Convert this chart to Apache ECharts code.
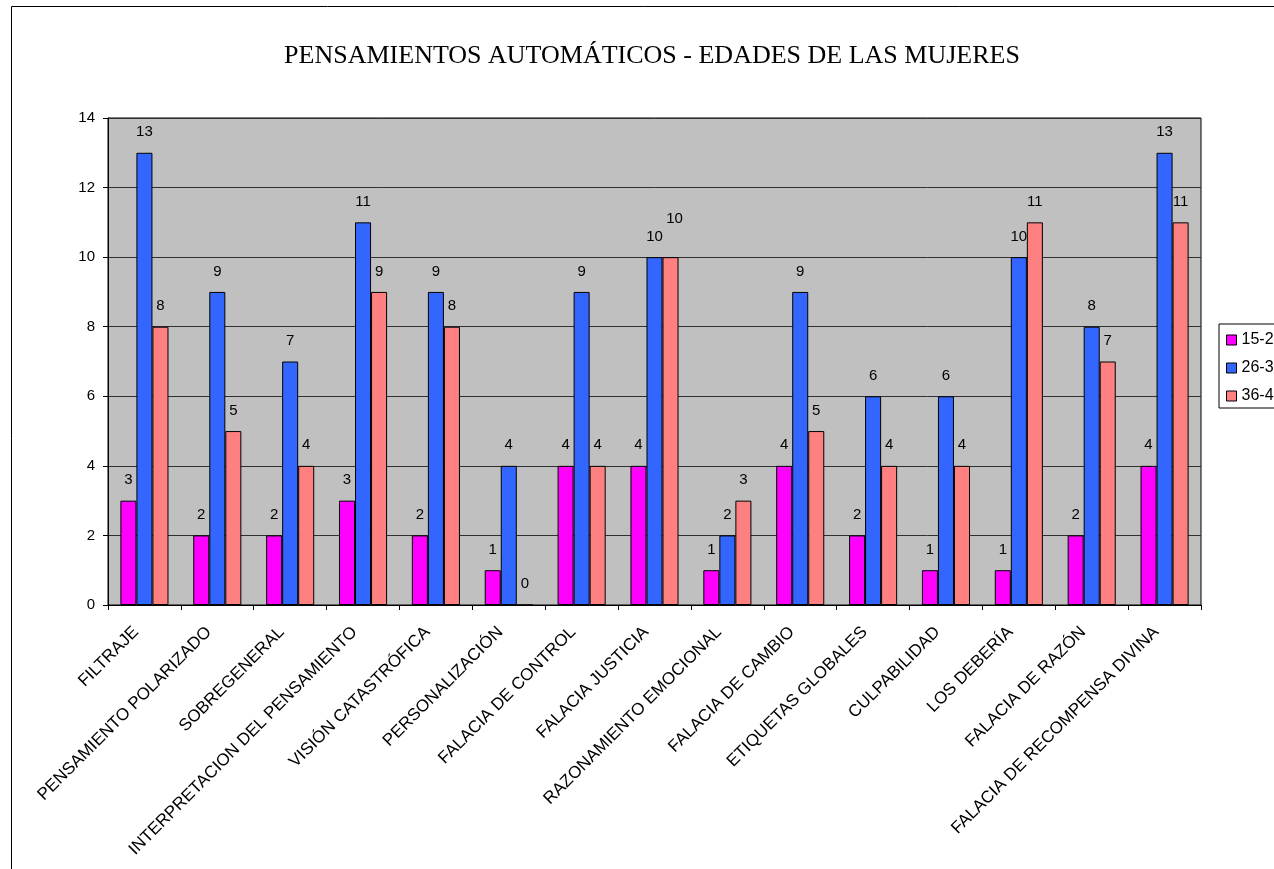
<!DOCTYPE html>
<html>
<head>
<meta charset="utf-8">
<script src="https://cdn.jsdelivr.net/npm/echarts@6/dist/echarts.min.js"></script>
<style>html,body{margin:0;padding:0;background:#fff;}#c{width:1274px;height:869px;}</style>
</head>
<body>
<div id="c"></div>
<script>
var categories = ['FILTRAJE','PENSAMIENTO POLARIZADO','SOBREGENERAL','INTERPRETACION DEL PENSAMIENTO','VISIÓN CATASTRÓFICA','PERSONALIZACIÓN','FALACIA DE CONTROL','FALACIA JUSTICIA','RAZONAMIENTO EMOCIONAL','FALACIA DE CAMBIO','ETIQUETAS GLOBALES','CULPABILIDAD','LOS DEBERÍA','FALACIA DE RAZÓN','FALACIA DE RECOMPENSA DIVINA'];
var seriesNames = ['15-25','26-35','36-45'];
var s1 = [3,2,2,3,2,1,4,4,1,4,2,1,1,2,4];
var s2 = [13,9,7,11,9,4,9,10,2,9,6,6,10,8,13];
var s3 = [8,5,4,9,8,0,4,10,3,5,4,4,11,7,11];
var colors = ['#FF00FF','#3366FF','#FF8080'];

var chart = echarts.init(document.getElementById('c'), null, {renderer:'canvas'});
function mk(name, data, color, layout){
  var s = {
    name: name, type: 'bar', data: data, barGap: '0%', barCategoryGap: '34%',
    itemStyle: {color: color, borderColor: '#000', borderWidth: 1},
    label: {show: true, position: 'top', distance: 13, color: '#000', fontFamily: 'Liberation Sans, Arial', fontSize: 15},
    emphasis: {disabled: true}
  };
  if (layout) s.labelLayout = layout;
  return s;
}
// Excel moves a label up when it would collide with the neighbouring bar's label of equal height
var avoid = function(p){
  return (s3[p.dataIndex] === s2[p.dataIndex] && s3[p.dataIndex] >= 10) ? {dy: -18, dx: 4} : {};
};
chart.setOption({
  animation: false,
  backgroundColor: '#fff',
  title: {
    text: 'PENSAMIENTOS AUTOMÁTICOS - EDADES DE LAS MUJERES',
    left: 647, top: 38, textAlign: 'center',
    textStyle: {fontFamily: 'Liberation Serif, Times New Roman', fontWeight: 'normal', fontSize: 26, color: '#000'}
  },
  graphic: [{
    type: 'rect', shape: {x: 11.5, y: 6.5, width: 1400, height: 1000},
    style: {fill: 'none', stroke: '#000', lineWidth: 1}, silent: true, z: -1
  }],
  legend: {
    left: 1219, top: 324, orient: 'vertical', itemGap: 12,
    itemWidth: 10, itemHeight: 10, icon: 'rect',
    padding: [8, 20, 4, 7],
    borderColor: '#000', borderWidth: 1, backgroundColor: '#fff',
    textStyle: {fontFamily: 'Liberation Sans, Arial', fontSize: 16, lineHeight: 16, color: '#000'},
    itemStyle: {borderColor: '#000', borderWidth: 1}
  },
  grid: {left: 108, top: 118, right: 73, bottom: 264, show: true, backgroundColor: '#C0C0C0', borderColor: '#000', borderWidth: 1},
  xAxis: {
    type: 'category', data: categories,
    axisLine: {lineStyle: {color: '#000'}},
    axisTick: {show: true, length: 5, lineStyle: {color: '#000'}},
    axisLabel: {rotate: 45, interval: 0, margin: 16, padding: [0, 12, 0, 0], color: '#000', fontFamily: 'Liberation Sans, Arial', fontSize: 17}
  },
  yAxis: {
    type: 'value', min: 0, max: 14, interval: 2,
    axisLine: {show: true, lineStyle: {color: '#000'}},
    axisTick: {show: true, length: 5, lineStyle: {color: '#000'}},
    axisLabel: {color: '#000', fontFamily: 'Liberation Sans, Arial', fontSize: 15, margin: 13},
    splitLine: {show: true, lineStyle: {color: '#303030', width: 1}}
  },
  series: [mk(seriesNames[0], s1, colors[0]), mk(seriesNames[1], s2, colors[1]), mk(seriesNames[2], s3, colors[2], avoid)]
});
</script>
</body>
</html>
